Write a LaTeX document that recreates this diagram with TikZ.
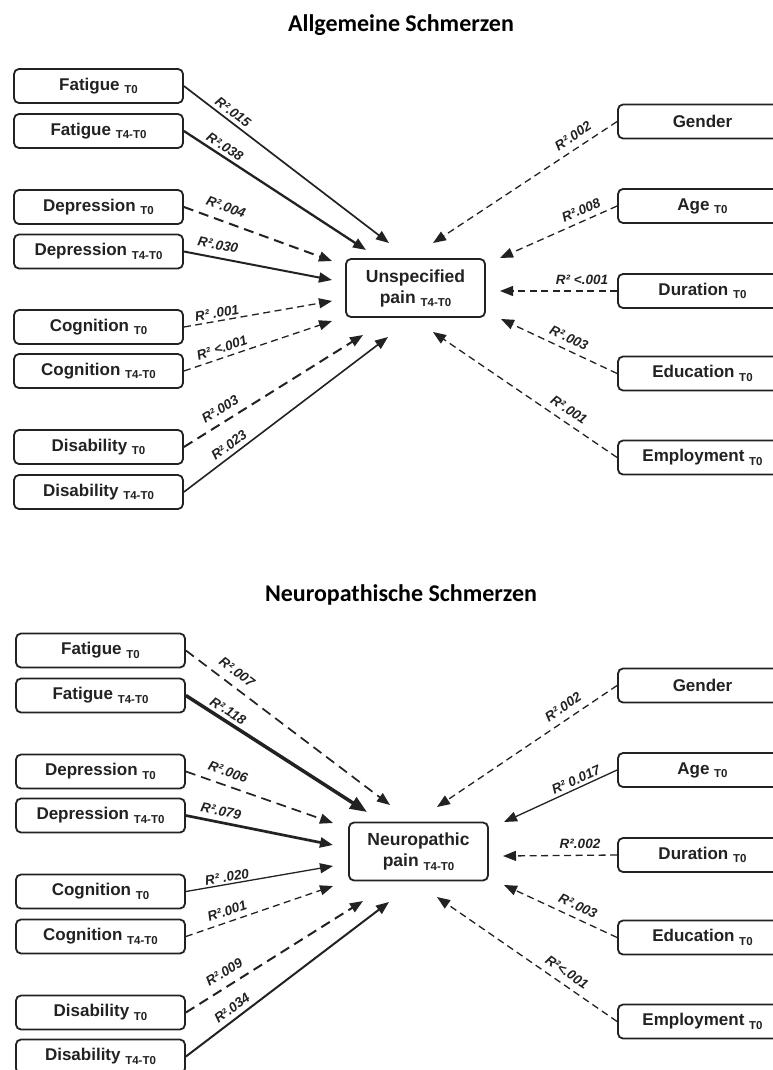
\documentclass[tikz,border=0pt]{standalone}
\usepackage{fontspec}
\setmainfont{Liberation Sans}
\newfontfamily\ttlfamily{Carlito}
\usetikzlibrary{arrows.meta}

\definecolor{ink}{HTML}{222222}
\newcommand\boxfont{\bfseries\fontsize{17}{20}\selectfont}
\newcommand\outfont{\bfseries\fontsize{17.5}{21}\selectfont}
\newcommand\labfont{\bfseries\itshape\fontsize{13.5}{15}\selectfont}
\newcommand\ttlfont{\ttlfamily\bfseries\fontsize{24}{28}\selectfont}
% lowered small index such as T0 or T4-T0
\newcommand\idx[1]{\raisebox{-3.5pt}{\fontsize{11.5}{12}\selectfont #1}}

\tikzset{
  box/.style={draw=ink, line width=1.8pt, rounded corners=5pt, minimum width=169pt,
    minimum height=34pt, inner sep=0pt, text=ink, fill=white, font=\boxfont},
  outcome/.style={box, minimum width=139pt, minimum height=58pt, align=center, font=\outfont},
  lab/.style={font=\labfont, text=ink, inner sep=0pt},
  conn/.style={draw=ink, -{Triangle[length=13pt,width=10pt]}},
  bigconn/.style={draw=ink, -{Triangle[length=17pt,width=13pt]}},
  dsh/.style={dash pattern=on 7pt off 4.5pt},
  dshL/.style={dash pattern=on 10pt off 6pt},
  heading/.style={font=\ttlfont, anchor=base, text=black}
}

\begin{document}
\begin{tikzpicture}[x=1pt, y=-1pt]
\useasboundingbox (0,0) rectangle (773,1070);
\clip (0,0) rectangle (773,1070);

% ===================== upper panel =====================
\node[heading] (ttop) at (401,32) {Allgemeine Schmerzen};

\node[box] (af0) at (98.5,86)    {Fatigue \idx{T0}};
\node[box] (af4) at (98.5,131)   {Fatigue \idx{T4-T0}};
\node[box] (ad0) at (98.5,207)   {Depression \idx{T0}};
\node[box] (ad4) at (98.5,251.5) {Depression \idx{T4-T0}};
\node[box] (ac0) at (98.5,327)   {Cognition \idx{T0}};
\node[box] (ac4) at (98.5,371)   {Cognition \idx{T4-T0}};
\node[box] (ab0) at (98.5,447)   {Disability \idx{T0}};
\node[box] (ab4) at (98.5,492)   {Disability \idx{T4-T0}};

\node[box] (ag)  at (702.5,121.5) {Gender};
\node[box] (aa)  at (702.5,206)   {Age \idx{T0}};
\node[box] (adu) at (702.5,291)   {Duration \idx{T0}};
\node[box] (aed) at (702.5,373.5) {Education \idx{T0}};
\node[box] (aem) at (702.5,457.5) {Employment \idx{T0}};

\node[outcome] (apain) at (415.5,288) {Unspecified\\pain \idx{T4-T0}};

% arrow tips around the outcome box
\coordinate (at1) at (389,243);
\coordinate (at2) at (366,250);
\coordinate (at3) at (332,261);
\coordinate (at4) at (332,280);
\coordinate (at5) at (332,301);
\coordinate (at6) at (332,321);
\coordinate (at7) at (363,335);
\coordinate (at8) at (388,337);
\coordinate (at9) at (433,243);
\coordinate (at10) at (500,258);
\coordinate (at11) at (500,291);
\coordinate (at12) at (501,319);
\coordinate (at13) at (433,332);

\draw[conn, line width=1.7pt] (af0.east) -- (at1);
\draw[conn, line width=2.3pt] (af4.east) -- (at2);
\draw[conn, dshL, line width=2pt] (ad0.east) -- (at3);
\draw[conn, line width=2pt] (ad4.east) -- (at4);
\draw[conn, dsh, line width=1.3pt] (ac0.east) -- (at5);
\draw[conn, dsh, line width=1.3pt] (ac4.east) -- (at6);
\draw[conn, dshL, line width=2pt] (ab0.east) -- (at7);
\draw[conn, line width=1.6pt] (ab4.east) -- (at8);
\draw[conn, dsh, line width=1.3pt] (ag.west) -- (at9);
\draw[conn, dsh, line width=1.3pt] (aa.west) -- (at10);
\draw[conn, dsh, line width=1.3pt] (adu.west) -- (at11);
\draw[conn, dsh, line width=1.3pt] (aed.west) -- (at12);
\draw[conn, dsh, line width=1.3pt] (aem.west) -- (at13);

\node[lab, rotate=-37.3] (al1) at (233,112) {R².015};
\node[lab, rotate=-33]   (al2) at (225,147) {R².038};
\node[lab, rotate=-19.9] (al3) at (226,207) {R².004};
\node[lab, rotate=-11]   (al4) at (218,245) {R².030};
\node[lab, rotate=9.9]   (al5) at (217,313) {R² .001};
\node[lab, rotate=18.5]  (al6) at (222,348) {R² <.001};
\node[lab, rotate=31.9]  (al7) at (220,409) {R².003};
\node[lab, rotate=37.1]  (al8) at (229,445) {R².023};
\node[lab, rotate=33.4]  (al9) at (573,136) {R².002};
\node[lab, rotate=23.8]  (al10) at (581,210) {R².008};
\node[lab]               (al11) at (582,280) {R² <.001};
\node[lab, rotate=-24.8] (al12) at (569,338) {R².003};
\node[lab, rotate=-34]   (al13) at (569,410) {R².001};

% ===================== lower panel =====================
\node[heading] (tbot) at (401,601) {Neuropathische Schmerzen};

\node[box] (nf0) at (100.5,650.5)  {Fatigue \idx{T0}};
\node[box] (nf4) at (100.5,695.5)  {Fatigue \idx{T4-T0}};
\node[box] (nd0) at (100.5,771.5)  {Depression \idx{T0}};
\node[box] (nd4) at (100.5,815.5)  {Depression \idx{T4-T0}};
\node[box] (nc0) at (100.5,891.5)  {Cognition \idx{T0}};
\node[box] (nc4) at (100.5,936.5)  {Cognition \idx{T4-T0}};
\node[box] (nb0) at (100.5,1012.5) {Disability \idx{T0}};
\node[box] (nb4) at (100.5,1056.5) {Disability \idx{T4-T0}};

\node[box] (ng)  at (702.5,685.5)  {Gender};
\node[box] (na)  at (702.5,770)    {Age \idx{T0}};
\node[box] (ndu) at (702.5,855)    {Duration \idx{T0}};
\node[box] (ned) at (702.5,937.5)  {Education \idx{T0}};
\node[box] (nem) at (702.5,1021.5) {Employment \idx{T0}};

\node[outcome] (npain) at (418.5,851.5) {Neuropathic\\pain \idx{T4-T0}};

\coordinate (nt1) at (390,805);
\coordinate (nt2) at (367,812);
\coordinate (nt3) at (333,823);
\coordinate (nt4) at (333,845);
\coordinate (nt5) at (333,866);
\coordinate (nt6) at (333,886);
\coordinate (nt7) at (363,901);
\coordinate (nt8) at (389,902);
\coordinate (nt9) at (437,807);
\coordinate (nt10) at (504,822);
\coordinate (nt11) at (503,856);
\coordinate (nt12) at (504,885);
\coordinate (nt13) at (437,897);

\draw[conn, dshL, line width=1.7pt] (nf0.east) -- (nt1);
\draw[bigconn, line width=3.5pt] (nf4.east) -- (nt2);
\draw[conn, dshL, line width=1.7pt] (nd0.east) -- (nt3);
\draw[conn, line width=2.7pt] (nd4.east) -- (nt4);
\draw[conn, line width=1.3pt] (nc0.east) -- (nt5);
\draw[conn, dsh, line width=1.3pt] (nc4.east) -- (nt6);
\draw[conn, dshL, line width=2pt] (nb0.east) -- (nt7);
\draw[conn, line width=2pt] (nb4.east) -- (nt8);
\draw[conn, dsh, line width=1.3pt] (ng.west) -- (nt9);
\draw[conn, line width=1.3pt] (na.west) -- (nt10);
\draw[conn, dsh, line width=1.3pt] (ndu.west) -- (nt11);
\draw[conn, dsh, line width=1.3pt] (ned.west) -- (nt12);
\draw[conn, dsh, line width=1.3pt] (nem.west) -- (nt13);

\node[lab, rotate=-36.9] (nl1) at (237,672) {R².007};
\node[lab, rotate=-32.5] (nl2) at (228,711) {R².118};
\node[lab, rotate=-19.1] (nl3) at (228,772) {R².006};
\node[lab, rotate=-11.2] (nl4) at (221,811) {R².079};
\node[lab, rotate=9.7]   (nl5) at (227,877) {R² .020};
\node[lab, rotate=18.5]  (nl6) at (227,911) {R².001};
\node[lab, rotate=31.9]  (nl7) at (224,972) {R².009};
\node[lab, rotate=37]    (nl8) at (232,1008) {R².034};
\node[lab, rotate=33.9]  (nl9) at (563,707) {R².002};
\node[lab, rotate=24.5]  (nl10) at (576,780) {R² 0.017};
\node[lab]               (nl11) at (580,844) {R².002};
\node[lab, rotate=-24.7] (nl12) at (578,906) {R².003};
\node[lab, rotate=-34.5] (nl13) at (567,972) {R²<.001};
\end{tikzpicture}
\end{document}
